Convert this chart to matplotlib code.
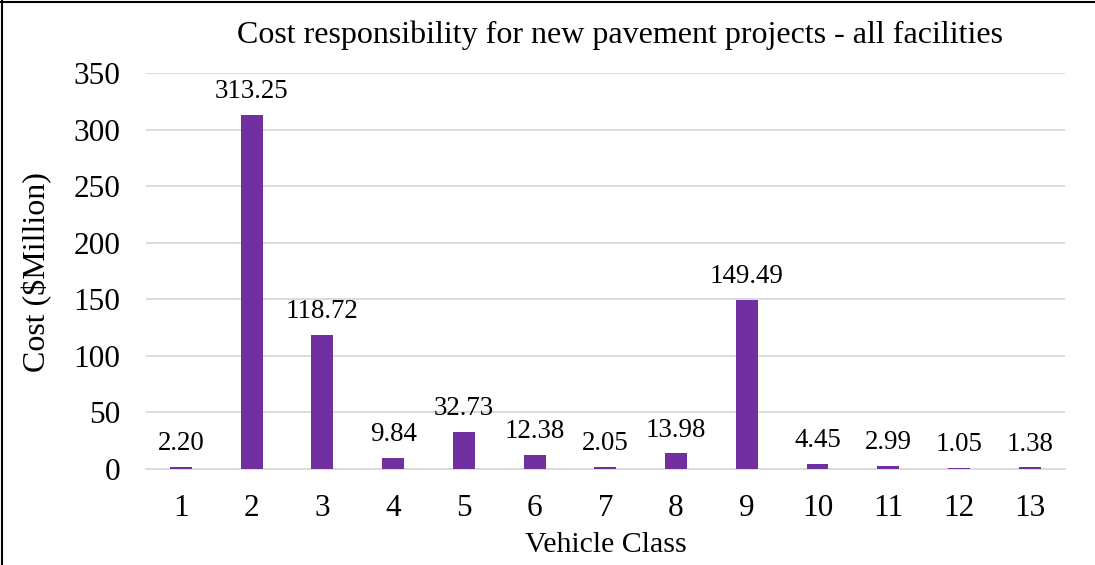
import matplotlib
matplotlib.use("Agg")
import matplotlib.pyplot as plt
from matplotlib.lines import Line2D

categories = ["1", "2", "3", "4", "5", "6", "7", "8", "9", "10", "11", "12", "13"]
values = [2.20, 313.25, 118.72, 9.84, 32.73, 12.38, 2.05, 13.98, 149.49, 4.45, 2.99, 1.05, 1.38]
yticks = [0, 50, 100, 150, 200, 250, 300, 350]

plt.rcParams['font.family'] = ['Liberation Serif', 'DejaVu Serif']

FS = 22.5
W, H = 1095, 565
fig = plt.figure(figsize=(W / 100, H / 100), dpi=100)
ax = fig.add_axes([145.6 / W, 1 - 469 / H, (1065 - 145.6) / W, (469 - 73) / H])

x = list(range(len(categories)))
ax.bar(x, values, width=0.31, color="#7030A0", zorder=3)
for xi, v in zip(x, values):
    ax.annotate(f"{v:.2f}", (xi, v), xytext=(0, 12), textcoords="offset points",
                ha="center", va="baseline", fontsize=19.4, color="black")

ax.set_xlim(-0.5, len(categories) - 0.5)
ax.set_ylim(0, 350)
ax.set_yticks(yticks)
ax.set_xticks(x)
ax.set_xticklabels(categories)
ax.tick_params(axis="both", length=0, labelsize=FS)
ax.tick_params(axis="x", pad=18)
ax.tick_params(axis="y", pad=18)
ax.grid(axis="y", color="#d9d9d9", linewidth=1.3, zorder=0)
for s in ["top", "right", "left"]:
    ax.spines[s].set_visible(False)
ax.spines["bottom"].set_color("#d9d9d9")
ax.spines["bottom"].set_linewidth(1.3)

fig.text(620 / W, 1 - 35 / H, "Cost responsibility for new pavement projects - all facilities",
         ha="center", va="center", fontsize=FS + 0.5)
fig.text(37 / W, 1 - 272 / H, "Cost ($Million)", rotation=90, ha="center", va="center", fontsize=FS + 0.5)
fig.text(606 / W, 1 - 545 / H, "Vehicle Class", ha="center", va="center", fontsize=21.5)

fig.add_artist(Line2D([0, 1], [1 - 1.5 / H, 1 - 1.5 / H], transform=fig.transFigure, color="black", linewidth=1.5))
fig.add_artist(Line2D([1.5 / W, 1.5 / W], [0, 1], transform=fig.transFigure, color="black", linewidth=1.5))

fig.savefig("out.png", dpi=100)
